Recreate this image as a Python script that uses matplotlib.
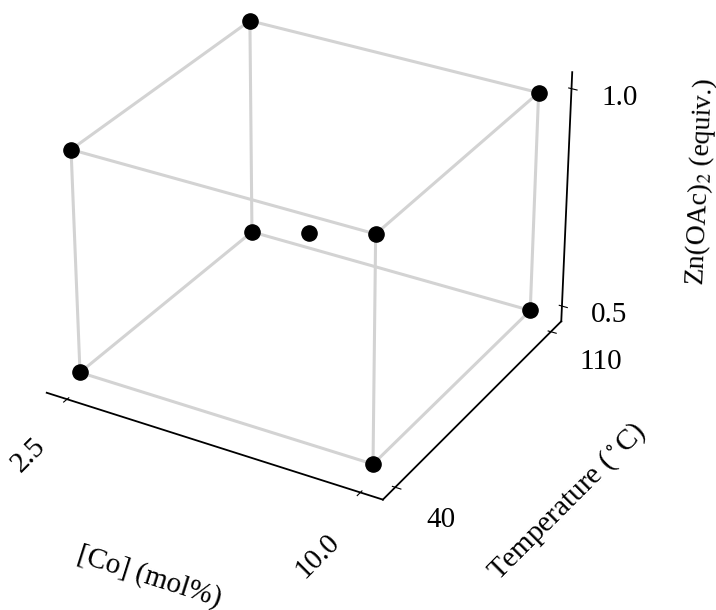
import numpy as np
import matplotlib
matplotlib.use("Agg")
import matplotlib.pyplot as plt

plt.rcParams['font.family'] = ['Liberation Serif', 'DejaVu Serif']
plt.rcParams['mathtext.fontset'] = 'stix'

# factor levels of the 2^3 design plus the centre point
co_levels = [2.5, 10.0]
temp_levels = [40, 110]
zn_levels = [0.5, 1.0]

co = [2.5, 10.0, 10.0, 2.5, 2.5, 10.0, 10.0, 2.5, 6.25]
temp = [40, 40, 110, 110, 40, 40, 110, 110, 75]
zn = [0.5, 0.5, 0.5, 0.5, 1.0, 1.0, 1.0, 1.0, 0.75]

fs = 21

fig = plt.figure(figsize=(7.16, 6.10), dpi=100)
ax = fig.add_axes([-0.07, 0.115, 0.98, 0.98], projection='3d')
ax.view_init(elev=29, azim=-60)

# cube edges: join corners that differ in a single factor
corners = list(zip(co[:8], temp[:8], zn[:8]))
for i, a in enumerate(corners):
    for b in corners[i + 1:]:
        if sum(u != v for u, v in zip(a, b)) == 1:
            ax.plot([a[0], b[0]], [a[1], b[1]], [a[2], b[2]],
                    color='lightgray', lw=2.2, zorder=1)

ax.scatter(co, temp, zn, color='black', s=120, depthshade=False, zorder=5)

for axis in (ax.xaxis, ax.yaxis, ax.zaxis):
    axis.pane.set_visible(False)
    axis.line.set_color('black')
    axis.line.set_linewidth(1.3)
    axis.set_tick_params(width=1.2)
ax.grid(False)

ax.set_xticks(co_levels)
ax.set_yticks(temp_levels)
ax.set_zticks(zn_levels)
ax.set_xticklabels(['2.5', '10.0'], rotation=45, ha='right', fontsize=fs)
ax.set_yticklabels(['40', '110'], ha='left', va='center', fontsize=fs)
ax.set_zticklabels(['0.5', '1.0'], ha='left', fontsize=fs)
ax.xaxis.set_tick_params(pad=10)
ax.yaxis.set_tick_params(pad=12)
ax.zaxis.set_tick_params(pad=5)
ax.zaxis.set_ticks_position('upper')
ax.zaxis.set_label_position('upper')

ax.set_xlabel('[Co] (mol%)', fontsize=fs, labelpad=46)
ax.set_ylabel('Temperature ($^\\circ$C)', fontsize=fs, labelpad=40)
ax.set_zlabel('Zn(OAc)$_2$ (equiv.)', fontsize=20, labelpad=39)

fig.savefig('out.png', dpi=100)
